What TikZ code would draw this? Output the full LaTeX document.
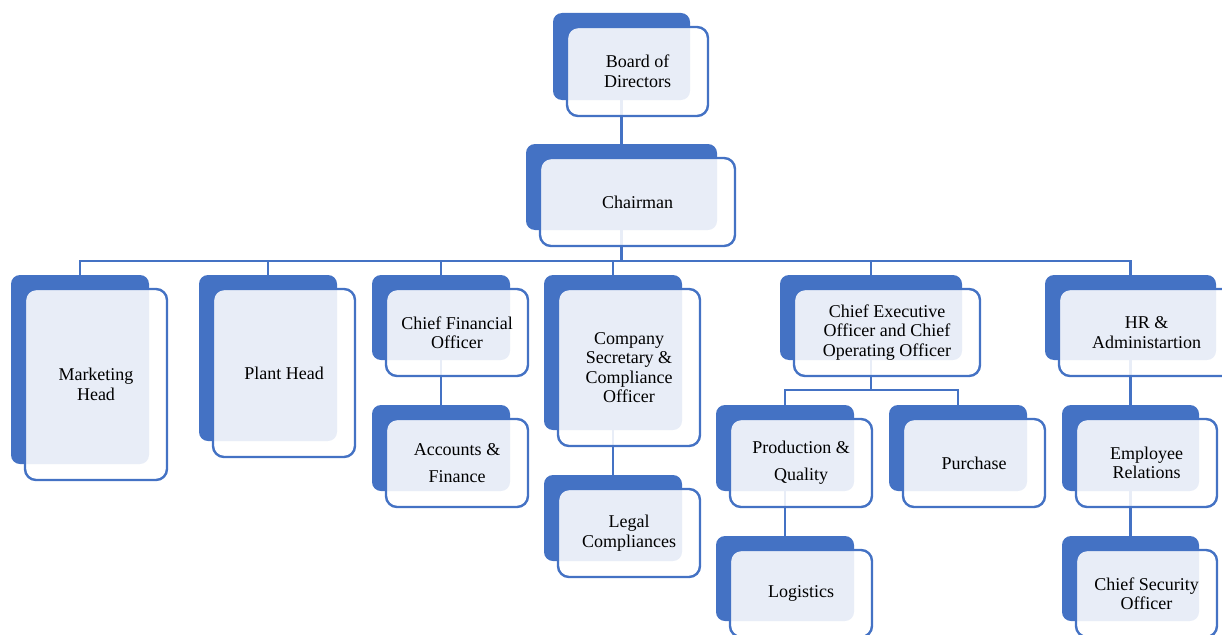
\documentclass[tikz,border=0pt]{standalone}
\usepackage{fontspec}
\setmainfont{Liberation Serif}
\usetikzlibrary{backgrounds}
\definecolor{accent}{HTML}{4472C4}
\tikzset{
  backbox/.style={fill=accent, rounded corners=9pt, inner sep=0pt, outer sep=0pt},
  frontbox/.style={draw=accent, line width=2.4pt, fill=white, fill opacity=0.88, text opacity=1,
    rounded corners=11pt, inner sep=0pt, outer sep=0pt, align=center,
    font=\fontsize{18}{19.5}\selectfont, text=black},
  conn/.style={draw=accent, line width=2.6pt}
}
\newcommand\orgunit[6]{%
  \pgfmathsetmacro\bw{#4-#2}%
  \pgfmathsetmacro\bh{#5-#3}%
  \pgfmathsetmacro\bcx{(#2+#4)/2}%
  \pgfmathsetmacro\bcy{(#3+#5)/2}%
  \node[backbox, minimum width=\bw pt, minimum height=\bh pt] (#1-b) at (\bcx,\bcy) {};
  \node[frontbox, minimum width=\bw pt+4pt, minimum height=\bh pt+2pt] (#1) at (\bcx+16,\bcy+15) {#6};
}
\begin{document}
\begin{tikzpicture}[x=1pt,y=-1pt]
\useasboundingbox (0,0) rectangle (1222,634);
\clip (0,0) rectangle (1222,634);
\orgunit{board}{553}{13}{690}{100}{Board of\\Directors}
\orgunit{chair}{526}{144}{717}{230}{Chairman}
\orgunit{mkt}{11}{275}{149}{464}{Marketing\\Head}
\orgunit{plant}{199}{275}{337}{441}{Plant Head}
\orgunit{cfo}{372}{275}{510}{360}{Chief Financial\\Officer}
\orgunit{acc}{372}{405}{510}{491}{Accounts \&\\[7.5pt]Finance}
\orgunit{cs}{544}{275}{682}{430}{Company\\Secretary \&\\Compliance\\Officer}
\orgunit{legal}{544}{475}{682}{561}{Legal\\Compliances}
\orgunit{ceo}{780}{275}{962}{360}{Chief Executive\\Officer and Chief\\Operating Officer}
\orgunit{prod}{716}{405}{854}{491}{Production \&\\[7.5pt]Quality}
\orgunit{pur}{889}{405}{1027}{491}{Purchase}
\orgunit{log}{716}{536}{854}{621}{Logistics}
\orgunit{hr}{1045}{275}{1216}{360}{HR \&\\Administartion}
\orgunit{emp}{1062}{405}{1199}{491}{Employee\\Relations}
\orgunit{sec}{1062}{536}{1199}{621}{Chief Security\\Officer}
\begin{pgfonlayer}{background}
  \draw[conn] (board-b.south) -- (chair-b.north);
  \foreach \n in {mkt,plant,cfo,cs,ceo,hr}
    \draw[conn] (chair-b.south) -- ++(0,31) -| (\n-b.north);
  \foreach \n in {prod,pur}
    \draw[conn] (ceo-b.south) -- ++(0,30) -| (\n-b.north);
  \draw[conn] (cfo-b.south) -- (acc-b.north);
  \draw[conn] (cs-b.south) -- (legal-b.north);
  \draw[conn] (prod-b.south) -- (log-b.north);
  \draw[conn] (hr-b.south) -- (emp-b.north);
  \draw[conn] (emp-b.south) -- (sec-b.north);
\end{pgfonlayer}
\end{tikzpicture}
\end{document}
